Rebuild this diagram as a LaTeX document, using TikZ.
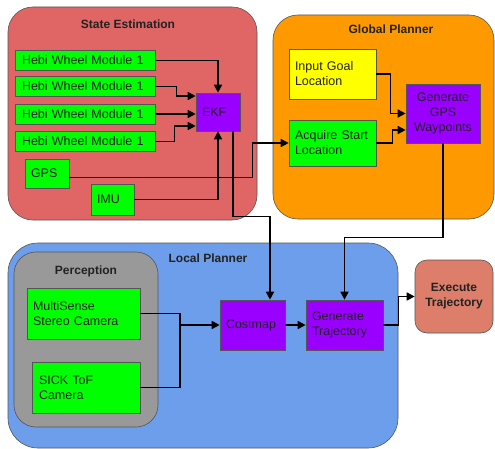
\documentclass[tikz,border=0pt]{standalone}
\usepackage{fontspec}
\setmainfont{Liberation Sans}
\usetikzlibrary{arrows.meta,calc}
\definecolor{sered}{HTML}{E06666}
\definecolor{gporange}{HTML}{FF9900}
\definecolor{lpblue}{HTML}{6D9EEB}
\definecolor{pgray}{HTML}{999999}
\definecolor{bgreen}{HTML}{00FF00}
\definecolor{byellow}{HTML}{FFFF00}
\definecolor{bpurple}{HTML}{9900FF}
\definecolor{exred}{HTML}{DD7E6B}
\definecolor{bord}{HTML}{555555}
\definecolor{txt}{HTML}{222222}
\begin{document}
\begin{tikzpicture}[x=1pt,y=-1pt,
  font=\fontsize{12.5}{15}\selectfont,
  group/.style={draw=bord, line width=0.6pt, rounded corners=#1},
  ttl/.style={font=\fontsize{12}{15}\selectfont\bfseries, text=txt, inner sep=0pt},
  box/.style={draw=bord, line width=0.6pt, inner ysep=0pt, text=txt, align=left},
  gbox/.style={box, fill=bgreen},
  pbox/.style={box, fill=bpurple},
  ybox/.style={box, fill=byellow},
  conn/.style={line width=1.6pt, -{Triangle[length=8pt,width=8pt]}},
  wire/.style={line width=1.6pt}]
\useasboundingbox (0,0) rectangle (495,449);

% containers
\draw[group=25, fill=sered] (8,7) rectangle (257,220);
\draw[group=25, fill=gporange] (273,15) rectangle (494,219);
\draw[group=30, fill=lpblue] (8,243) rectangle (398,448);
\draw[group=22, fill=pgray] (14,252) rectangle (158,427);

\node[ttl] (tse) at (128,24) {State Estimation};
\node[ttl] (tgp) at (391,29) {Global Planner};
\node[ttl] (tlp) at (208,258) {Local Planner};
\node[ttl] (tpe) at (86,271) {Perception};

% state estimation
\node[gbox, inner xsep=7pt, text width=126pt, minimum height=20pt] (h1) at (85,60.5) {Hebi Wheel Module 1};
\node[gbox, inner xsep=7pt, text width=126pt, minimum height=20pt] (h2) at (85,86.5) {Hebi Wheel Module 1};
\node[gbox, inner xsep=7pt, text width=126pt, minimum height=20pt] (h3) at (85,114) {Hebi Wheel Module 1};
\node[gbox, inner xsep=7pt, text width=126pt, minimum height=20pt] (h4) at (85,141.5) {Hebi Wheel Module 1};
\node[pbox, inner xsep=6pt, text width=32pt, minimum height=38pt] (ekf) at (218,112) {EKF};
\node[gbox, inner xsep=6pt, text width=32pt, minimum height=29pt] (gps) at (47,173.5) {GPS};
\node[gbox, inner xsep=6pt, text width=31pt, minimum height=31pt] (imu) at (112.5,199.5) {IMU};

% global planner
\node[ybox, inner xsep=6pt, text width=75pt, minimum height=50pt] (igl) at (332.5,74) {Input Goal\\Location};
\node[gbox, inner xsep=6pt, text width=75pt, minimum height=46pt] (acq) at (332.5,143) {Acquire Start\\Location};
\node[pbox, align=center, inner xsep=0pt, text width=74pt, minimum height=59pt] (ggw) at (443,113.5) {Generate\\GPS\\Waypoints};

% local planner
\node[gbox, inner xsep=6pt, text width=101pt, minimum height=51pt] (ms) at (83.5,313.5) {MultiSense\\Stereo Camera};
\node[gbox, inner xsep=7pt, text width=94pt, minimum height=51pt] (sick) at (86,387.5) {SICK ToF\\Camera};
\node[pbox, inner xsep=6pt, text width=53pt, minimum height=50pt] (cm) at (252.5,325) {Costmap};
\node[pbox, inner xsep=6pt, text width=65pt, minimum height=50pt] (gt) at (344.5,325) {Generate\\Trajectory};
\node[draw=bord, line width=0.6pt, fill=exred, rounded corners=12pt, align=center,
      font=\fontsize{12}{15}\selectfont\bfseries, text=txt, minimum width=78pt, minimum height=73pt,
      inner sep=0pt] (ex) at (454,296.5) {Execute\\Trajectory};

% connectors: state estimation
\draw[conn] (h1.east) -| (ekf.north);
\draw[conn] (h2.east) -- ++(21,0) |- ($(ekf.west)+(0,-16)$);
\draw[conn] (h3.east) -- (h3.east -| ekf.west);
\draw[conn] (h4.east) -- ++(19,0) |- ($(ekf.west)+(0,14)$);
\draw[conn] (imu.east) -| (ekf.south);
\draw[conn] ($(gps.east)+(0,4)$) -- ++(183,0) |- (acq.west);
\draw[conn] ($(ekf.south)+(15,0)$) -- ++(0,85) -| ($(cm.north)+(17.5,0)$);

% global planner
\draw[conn] (igl.east) -- ++(14,0) |- (ggw.west);
\draw[conn] (acq.east) -- ++(16,0) |- ($(ggw.west)+(0,16.5)$);
\draw[conn] (ggw.south) -- ++(0,94) -| (gt.north);

% local planner
\coordinate (j) at (180,325);
\draw[wire] (ms.east) -- (ms.east -| j) -- (sick.east -| j) -- (sick.east);
\draw[conn] (j) -- (cm.west);
\draw[conn] (cm.east) -- (gt.west);
\draw[conn] (gt.east) -- ++(15,0) |- (ex.west);
\end{tikzpicture}
\end{document}
